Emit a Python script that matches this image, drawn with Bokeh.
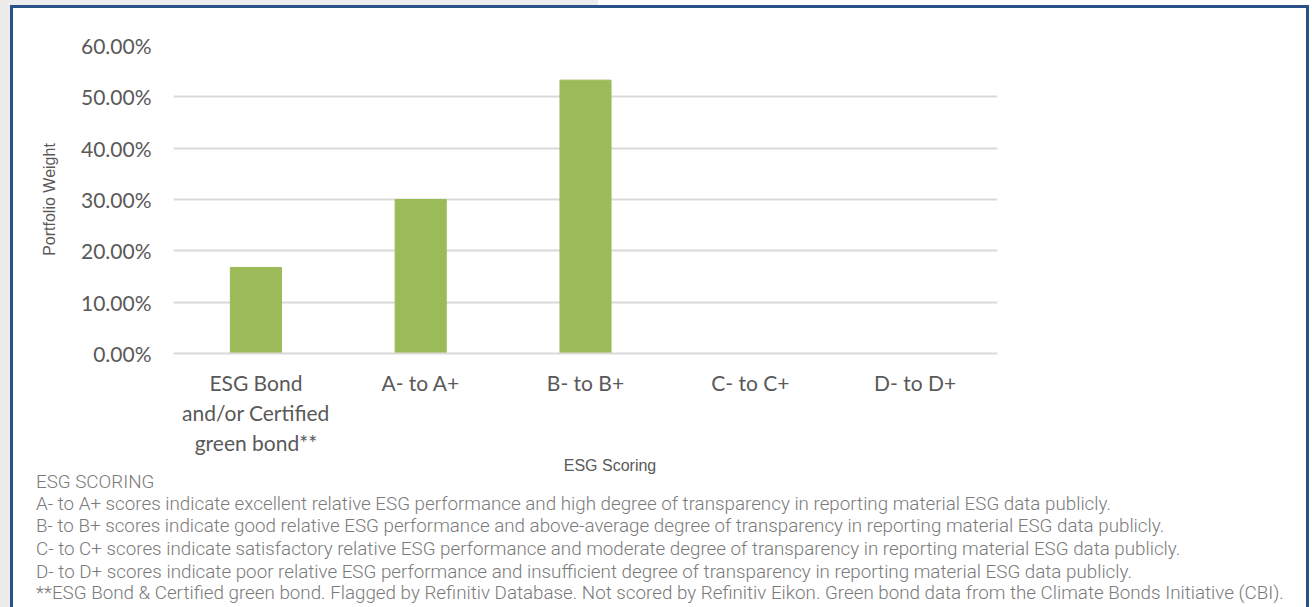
from bokeh.plotting import figure
from bokeh.layouts import column
from bokeh.models import (ColumnDataSource, Range1d, NumeralTickFormatter, FixedTicker, Div,
                          GlobalInlineStyleSheet)
from bokeh.embed import file_html
from bokeh.resources import INLINE
from html import escape

# ---- data ----
categories = ["ESG Bond\nand/or Certified\ngreen bond**", "A- to A+", "B- to B+", "C- to C+", "D- to D+"]
weights = [0.1675, 0.300, 0.5325, 0.0, 0.0]
y_ticks = [0.0, 0.1, 0.2, 0.3, 0.4, 0.5, 0.6]
footer_lines = [
    "ESG SCORING",
    "A- to A+ scores indicate excellent relative ESG performance and high degree of transparency in reporting material ESG data publicly.",
    "B- to B+ scores indicate good relative ESG performance and above-average degree of transparency in reporting material ESG data publicly.",
    "C- to C+ scores indicate satisfactory relative ESG performance and moderate degree of transparency in reporting material ESG data publicly.",
    "D- to D+ scores indicate poor relative ESG performance and insufficient degree of transparency in reporting material ESG data publicly.",
    "**ESG Bond & Certified green bond. Flagged by Refinitiv Database. Not scored by Refinitiv Eikon. Green bond data from the Climate Bonds Initiative (CBI).",
]
x_title = "ESG Scoring"
y_title = "Portfolio Weight"

W, H1, H2 = 1293, 450, 149
src = ColumnDataSource(dict(cat=categories, w=weights))

p = figure(width=W, height=H1, x_range=categories, y_range=Range1d(0, 0.6),
           output_backend="svg", toolbar_location=None,
           min_border_left=160, min_border_right=309, min_border_top=37, min_border_bottom=105)
p.outline_line_color = None
p.background_fill_color = "white"
p.border_fill_color = "white"

p.vbar(x="cat", top="w", width=0.31, source=src, fill_color="#9bbb59", line_color="#9bbb59")

p.xgrid.grid_line_color = None
p.ygrid.grid_line_color = "#d9d9d9"
p.ygrid.grid_line_width = 2
p.yaxis.ticker = FixedTicker(ticks=y_ticks)
p.yaxis.formatter = NumeralTickFormatter(format="0.00%")

for ax in (p.xaxis, p.yaxis):
    ax.axis_line_color = None
    ax.major_tick_line_color = None
    ax.minor_tick_line_color = None
    ax.major_tick_out = 0
    ax.major_label_text_font = "Lato"
    ax.major_label_text_font_size = "21px"
    ax.major_label_text_color = "#595959"
p.xaxis.axis_line_color = "#d9d9d9"
p.xaxis.axis_line_width = 2
p.xaxis.major_label_standoff = 16
p.yaxis.major_label_standoff = 22

p.yaxis.axis_label = y_title
p.yaxis.axis_label_text_font = "Liberation Sans"
p.yaxis.axis_label_text_font_style = "normal"
p.yaxis.axis_label_text_font_size = "16px"
p.yaxis.axis_label_text_color = "#595959"
p.yaxis.axis_label_standoff = 20

# ---- x title and ESG scoring notes (HTML block under the chart) ----
parts = ['<div style="position:relative;width:%dpx;height:%dpx;margin:0;padding:0;">' % (W, H2)]
parts.append('<div style="position:absolute;left:547px;top:0px;width:100px;text-align:center;'
             'font-family:\'Liberation Sans\';font-size:16px;line-height:16px;color:#595959;'
             'white-space:nowrap;">%s</div>' % escape(x_title))
tops = [13, 35, 57, 80, 103, 124]
for t, top in zip(footer_lines, tops):
    parts.append('<div style="position:absolute;left:23px;top:%dpx;font-family:Roboto;font-weight:300;'
                 'font-size:18.8px;line-height:22px;color:#7a7a7a;white-space:nowrap;">%s</div>'
                 % (top, escape(t)))
parts.append('</div>')
footer = Div(text="".join(parts), width=W, height=H2, styles={"margin": "0", "padding": "0"})

page_css = GlobalInlineStyleSheet(css="html, body { margin: 0; padding: 0; overflow: hidden; "
                                      "background: linear-gradient(to right, #ececec 598px, #ffffff 598px); }")
layout = column(p, footer, spacing=0,
                styles={"border": "3px solid #2a5088", "border-bottom": "none",
                        "margin-left": "10px", "margin-top": "5px", "background": "white"},
                stylesheets=[page_css])

open("out.html", "w").write(file_html(layout, INLINE))
